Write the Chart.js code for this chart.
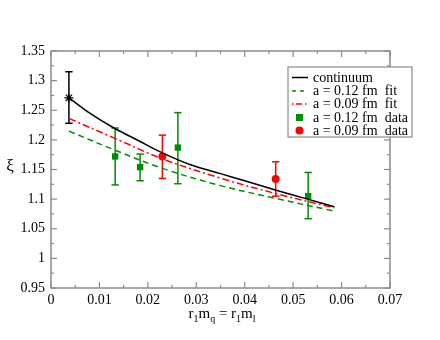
<!DOCTYPE html>
<html><head><meta charset="utf-8">
<script src="https://cdn.jsdelivr.net/npm/chart.js@4/dist/chart.umd.min.js"></script>
<style>html,body{margin:0;padding:0;background:#fff;}</style>
</head><body>
<canvas id="c" width="440" height="340"></canvas>
<script>
// ---- data ----
const xTicks = [0, 0.01, 0.02, 0.03, 0.04, 0.05, 0.06, 0.07];
const yTicks = [0.95, 1, 1.05, 1.1, 1.15, 1.2, 1.25, 1.3, 1.35];

const contX = [0.0037, 0.008, 0.013, 0.018, 0.023, 0.0288, 0.035, 0.04, 0.0465, 0.053, 0.0585];
const contY = [1.271, 1.245, 1.220, 1.199, 1.178, 1.158, 1.143, 1.131, 1.115, 1.100, 1.087];

const fitX = [0.0037, 0.0133, 0.023, 0.035, 0.0465, 0.0585];
const fit012Y = [1.2148, 1.1824, 1.1519, 1.1228, 1.1011, 1.0798];
const fit009Y = [1.2362, 1.2022, 1.1679, 1.1355, 1.1092, 1.0854];

const contPtX = [0.0037];
const contPtY = [1.271];
const contPtLo = [1.228];
const contPtHi = [1.315];

const d012X = [0.01325, 0.0184, 0.0262, 0.0531];
const d012Y = [1.172, 1.154, 1.187, 1.105];
const d012Lo = [1.124, 1.131, 1.126, 1.067];
const d012Hi = [1.220, 1.176, 1.246, 1.145];

const d009X = [0.0230, 0.0464];
const d009Y = [1.172, 1.134];
const d009Lo = [1.135, 1.105];
const d009Hi = [1.208, 1.163];

const legendLabels = ['continuum', 'a = 0.12 fm  fit', 'a = 0.09 fm  fit', 'a = 0.12 fm  data', 'a = 0.09 fm  data'];

// ---- styles ----
const GREEN = '#008c00';
const RED = '#ff0000';
const FRAME = '#8c8c8c';
const SERIF = '"Liberation Serif", "DejaVu Serif", serif';

const pts = (xs, ys) => xs.map((x, i) => ({x: x, y: ys[i]}));

const datasets = [
  {label: legendLabels[0], data: pts(contX, contY), showLine: true, borderColor: '#000', borderWidth: 1.5, pointRadius: 0, tension: 0.35, fill: false},
  {label: legendLabels[1], data: pts(fitX, fit012Y), showLine: true, borderColor: GREEN, borderWidth: 1.5, borderDash: [6, 4], pointRadius: 0, tension: 0.35, fill: false},
  {label: legendLabels[2], data: pts(fitX, fit009Y), showLine: true, borderColor: RED, borderWidth: 1.5, borderDash: [7, 3, 2, 3], pointRadius: 0, tension: 0.35, fill: false},
  {label: legendLabels[3], data: pts(d012X, d012Y), showLine: false, pointStyle: 'rect', pointRadius: 4.5, backgroundColor: GREEN, borderColor: GREEN, borderWidth: 0, errLo: d012Lo, errHi: d012Hi, errColor: GREEN},
  {label: legendLabels[4], data: pts(d009X, d009Y), showLine: false, pointStyle: 'circle', pointRadius: 4, backgroundColor: RED, borderColor: RED, borderWidth: 0, errLo: d009Lo, errHi: d009Hi, errColor: RED},
  {label: 'point', data: pts(contPtX, contPtY), showLine: false, pointStyle: 'star', pointRadius: 4.5, borderColor: '#000', backgroundColor: '#000', borderWidth: 1.2, errLo: contPtLo, errHi: contPtHi, errColor: '#000'}
];

function line(ctx, x1, y1, x2, y2) { ctx.beginPath(); ctx.moveTo(x1, y1); ctx.lineTo(x2, y2); ctx.stroke(); }

const decor = {
  id: 'decor',
  beforeDatasetsDraw(chart) {
    const ctx = chart.ctx, a = chart.chartArea, xs = chart.scales.x, ys = chart.scales.y;
    ctx.save();
    ctx.strokeStyle = FRAME; ctx.lineWidth = 1.5;
    ctx.strokeRect(a.left, a.top, a.right - a.left, a.bottom - a.top);
    ctx.lineWidth = 1.2;
    for (let i = 0; i < xTicks.length; i++) {
      const px = xs.getPixelForValue(xTicks[i]);
      line(ctx, px, a.bottom, px, a.bottom - 6); line(ctx, px, a.top, px, a.top + 6);
      if (i < xTicks.length - 1) {
        const pm = xs.getPixelForValue((xTicks[i] + xTicks[i + 1]) / 2);
        line(ctx, pm, a.bottom, pm, a.bottom - 3); line(ctx, pm, a.top, pm, a.top + 3);
      }
    }
    for (let i = 0; i < yTicks.length; i++) {
      const py = ys.getPixelForValue(yTicks[i]);
      line(ctx, a.left, py, a.left + 6, py); line(ctx, a.right, py, a.right - 6, py);
      if (i < yTicks.length - 1) {
        const pm = ys.getPixelForValue((yTicks[i] + yTicks[i + 1]) / 2);
        line(ctx, a.left, pm, a.left + 3, pm); line(ctx, a.right, pm, a.right - 3, pm);
      }
    }
    // error bars
    chart.data.datasets.forEach((ds) => {
      if (!ds.errLo) return;
      ctx.strokeStyle = ds.errColor; ctx.lineWidth = 1.5;
      ds.data.forEach((p, i) => {
        const px = xs.getPixelForValue(p.x);
        const lo = ys.getPixelForValue(ds.errLo[i]);
        const hi = ys.getPixelForValue(ds.errHi[i]);
        line(ctx, px, lo, px, hi);
        line(ctx, px - 3.7, lo, px + 3.7, lo);
        line(ctx, px - 3.7, hi, px + 3.7, hi);
      });
    });
    ctx.restore();
  },
  afterDraw(chart) {
    const ctx = chart.ctx;
    ctx.save();
    // legend box
    const bx = 288, by = 67, bw = 124, bh = 70;
    ctx.fillStyle = '#fff'; ctx.fillRect(bx, by, bw, bh);
    ctx.strokeStyle = FRAME; ctx.lineWidth = 1.2; ctx.strokeRect(bx, by, bw, bh);
    const rows = [77.5, 91, 104, 117.5, 130.5];
    const ds = chart.data.datasets;
    ctx.font = '14px ' + SERIF; ctx.textBaseline = 'middle'; ctx.textAlign = 'left';
    for (let i = 0; i < 5; i++) {
      const d = ds[i], y = rows[i];
      if (i < 3) {
        ctx.strokeStyle = d.borderColor; ctx.lineWidth = 1.5;
        ctx.setLineDash(i === 1 ? [4, 4] : i === 2 ? [1.5, 2.5, 6, 3] : []);
        line(ctx, 292, y, 308, y);
        ctx.setLineDash([]);
      } else if (i === 3) {
        ctx.fillStyle = d.backgroundColor; ctx.fillRect(296, y - 3.5, 7, 7);
      } else {
        ctx.fillStyle = d.backgroundColor; ctx.beginPath(); ctx.arc(299.5, y, 4, 0, Math.PI * 2); ctx.fill();
      }
      ctx.fillStyle = '#000';
      ctx.fillText(d.label, 313, y + 0.5);
    }
    // y title
    ctx.font = '17px ' + SERIF; ctx.textAlign = 'center'; ctx.textBaseline = 'middle';
    ctx.fillText('ξ', 10, 167);
    // x title: r1mq = r1ml with subscripts
    const parts = [['r', 0], ['1', 1], ['m', 0], ['q', 1], [' = ', 0], ['r', 0], ['1', 1], ['m', 0], ['l', 1]];
    const mainF = '15px ' + SERIF, subF = '10px ' + SERIF;
    let w = 0;
    parts.forEach(p => { ctx.font = p[1] ? subF : mainF; w += ctx.measureText(p[0]).width; });
    let x = 222 - w / 2; const base = 318;
    ctx.textAlign = 'left'; ctx.textBaseline = 'alphabetic';
    parts.forEach(p => {
      ctx.font = p[1] ? subF : mainF;
      ctx.fillText(p[0], x, base + (p[1] ? 4 : 0));
      x += ctx.measureText(p[0]).width;
    });
    ctx.restore();
  }
};

new Chart(document.getElementById('c'), {
  type: 'scatter',
  data: {datasets: datasets},
  options: {
    responsive: false, animation: false,
    layout: {padding: {left: 0, right: 50, top: 51, bottom: 0}},
    plugins: {legend: {display: false}, tooltip: {enabled: false}},
    scales: {
      x: {
        type: 'linear', min: xTicks[0], max: xTicks[xTicks.length - 1],
        afterBuildTicks: s => { s.ticks = xTicks.map(v => ({value: v})); },
        afterFit: s => { s.height = 52; },
        grid: {display: false, drawTicks: false}, border: {display: false},
        ticks: {color: '#000', font: {family: SERIF, size: 14}, padding: 4, maxRotation: 0, autoSkip: false, callback: v => String(v)}
      },
      y: {
        type: 'linear', min: yTicks[0], max: yTicks[yTicks.length - 1],
        afterBuildTicks: s => { s.ticks = yTicks.map(v => ({value: v})); },
        afterFit: s => { s.width = 51; },
        grid: {display: false, drawTicks: false}, border: {display: false},
        ticks: {color: '#000', font: {family: SERIF, size: 14}, padding: 6, autoSkip: false, callback: v => String(v)}
      }
    }
  },
  plugins: [decor]
});
</script>
</body></html>
